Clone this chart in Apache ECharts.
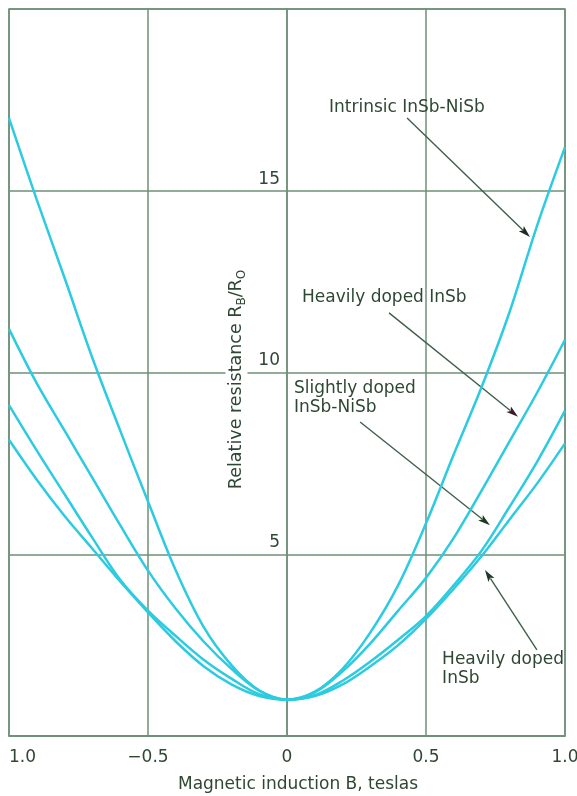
<!DOCTYPE html>
<html><head><meta charset="utf-8">
<script src="https://cdn.jsdelivr.net/npm/echarts@6/dist/echarts.min.js"></script>
<style>html,body{margin:0;padding:0;background:#fff}#c{width:577px;height:796px}</style>
</head><body><div id="c"></div>
<script>
// Magnetic induction B (teslas)
const fieldB = [-1.0,-0.9,-0.8,-0.7,-0.6,-0.5,-0.4,-0.3,-0.2,-0.1,0,0.1,0.2,0.3,0.4,0.5,0.6,0.7,0.8,0.9,1.0];
// Relative resistance RB/R0 for each material
const intrinsicInSbNiSb   = [17.0,14.75,12.6,10.4,8.4,6.45,4.55,3.0,1.95,1.25,1.0,1.22,1.85,2.85,4.15,5.85,7.75,9.6,11.65,14.05,16.2];
const heavilyDopedInSbA   = [11.2,9.7,8.4,7.1,5.8,4.55,3.5,2.6,1.85,1.25,1.0,1.2,1.78,2.55,3.45,4.35,5.45,6.75,8.1,9.45,10.9];
const slightlyDopedInSbNiSb = [9.1,7.85,6.65,5.45,4.3,3.45,2.75,2.1,1.58,1.15,1.0,1.12,1.52,2.05,2.65,3.3,4.15,5.1,6.3,7.55,8.95];
const heavilyDopedInSbB   = [8.15,7.05,6.05,5.15,4.25,3.4,2.6,1.92,1.42,1.1,1.0,1.1,1.42,1.92,2.5,3.22,4.05,4.95,5.95,6.95,8.05];

const xTickValues = [-1, -0.5, 0, 0.5, 1];
const xTickLabels = ['1.0', '\u22120.5', '0', '0.5', '1.0'];
const yTickValues = [5, 10, 15];
const yTickLabels = ['5', '10', '15'];

const annotations = [
  { lines: ['Intrinsic InSb-NiSb'], text: [0.151, 17.54], from: [0.432, 17.0], to: [0.874, 13.73], head: '#1f2a25' },
  { lines: ['Heavily doped InSb'], text: [0.054, 12.31], from: [0.367, 11.64], to: [0.831, 8.78], head: '#3a1c2c' },
  { lines: ['Slightly doped', 'InSb-NiSb'], text: [0.025, 9.83], from: [0.263, 8.64], to: [0.730, 5.80], head: '#1c3a20' },
  { lines: ['Heavily doped', 'InSb'], text: [0.558, 2.35], from: [0.899, 2.37], to: [0.712, 4.57], head: '#1d3a2a' }
];

const gridColor = '#6f8f77';
const textColor = '#2e4733';
const curveColor = '#2ccbe0';
const font = '"DejaVu Sans", sans-serif';
const W = 577, gridL = 9, gridR = 12;

const chart = echarts.init(document.getElementById('c'), null, { renderer: 'canvas' });

function mkSeries(name, arr) {
  return {
    name, type: 'line', showSymbol: false, smooth: 0.35, silent: true,
    data: fieldB.map((b, i) => [b, arr[i]]),
    lineStyle: { color: curveColor, width: 2.5 }
  };
}

chart.setOption({
  animation: false,
  backgroundColor: '#fff',
  grid: { left: gridL, right: gridR, top: 9, bottom: 60, show: true, borderColor: gridColor, borderWidth: 1.5, outerBoundsMode: 'none', containLabel: false },
  xAxis: {
    type: 'value', min: -1, max: 1, interval: 0.5,
    name: 'Magnetic induction B, teslas', nameLocation: 'middle', nameGap: 40,
    nameTextStyle: { fontFamily: font, fontSize: 17, color: textColor, padding: [0, 0, 0, 22] },
    axisLine: { show: true, onZero: false, lineStyle: { color: gridColor, width: 1.5 } },
    axisTick: { show: false },
    axisLabel: {
      fontFamily: font, fontSize: 17, color: textColor, margin: 13,
      alignMinLabel: 'left',
      formatter: v => { const i = xTickValues.findIndex(t => Math.abs(t - v) < 1e-9); return i >= 0 ? xTickLabels[i] : ''; }
    },
    splitLine: { show: true, lineStyle: { color: gridColor, width: 1.5 } }
  },
  yAxis: {
    type: 'value', min: 0, max: 20, interval: 5, position: 'left',
    offset: -(W - gridL - gridR) / 2,
    name: '{n|Relative resistance R}{s|B}{n|/R}{s|O}', nameLocation: 'middle', nameRotate: 90, nameGap: 33,
    nameTextStyle: {
      backgroundColor: '#fff', padding: [0, 17, 0, 3],
      rich: {
        n: { fontFamily: font, fontSize: 17.5, color: textColor, lineHeight: 22 },
        s: { fontFamily: font, fontSize: 12, color: textColor, lineHeight: 22, verticalAlign: 'bottom', padding: [6, 0, 0, 0] }
      }
    },
    axisLine: { show: true, onZero: false, lineStyle: { color: gridColor, width: 1.5 } },
    axisTick: { show: false },
    axisLabel: {
      fontFamily: font, fontSize: 17, color: textColor, margin: 7, verticalAlign: 'bottom', padding: [0, 0, 3, 0],
      formatter: v => { const i = yTickValues.indexOf(v); return i >= 0 ? yTickLabels[i] : ''; }
    },
    splitLine: { show: true, lineStyle: { color: gridColor, width: 1.5 } }
  },
  series: [
    mkSeries('Intrinsic InSb-NiSb', intrinsicInSbNiSb),
    mkSeries('Heavily doped InSb (a)', heavilyDopedInSbA),
    mkSeries('Slightly doped InSb-NiSb', slightlyDopedInSbNiSb),
    mkSeries('Heavily doped InSb (b)', heavilyDopedInSbB)
  ]
});

const graphics = [];
annotations.forEach(a => {
  const t = chart.convertToPixel({ gridIndex: 0 }, a.text);
  const p0 = chart.convertToPixel({ gridIndex: 0 }, a.from);
  const p1 = chart.convertToPixel({ gridIndex: 0 }, a.to);
  const dx = p1[0] - p0[0], dy = p1[1] - p0[1];
  const len = Math.hypot(dx, dy), ux = dx / len, uy = dy / len;
  const hl = 12, hw = 3.6;
  const bx = p1[0] - ux * hl, by = p1[1] - uy * hl;
  graphics.push({
    type: 'text', silent: true,
    style: { text: a.lines.join('\n'), x: t[0], y: t[1], font: '17px ' + font, fill: textColor, lineHeight: 19, verticalAlign: 'top', align: 'left' }
  });
  graphics.push({
    type: 'line', silent: true,
    shape: { x1: p0[0], y1: p0[1], x2: bx + ux * 2, y2: by + uy * 2 },
    style: { stroke: '#40604a', lineWidth: 1.4 }
  });
  graphics.push({
    type: 'polygon', silent: true,
    shape: { points: [[p1[0], p1[1]], [bx - uy * hw, by + ux * hw], [bx + ux * 2.5, by + uy * 2.5], [bx + uy * hw, by - ux * hw]] },
    style: { fill: a.head }
  });
});
chart.setOption({ graphic: graphics });
</script>
</body></html>
